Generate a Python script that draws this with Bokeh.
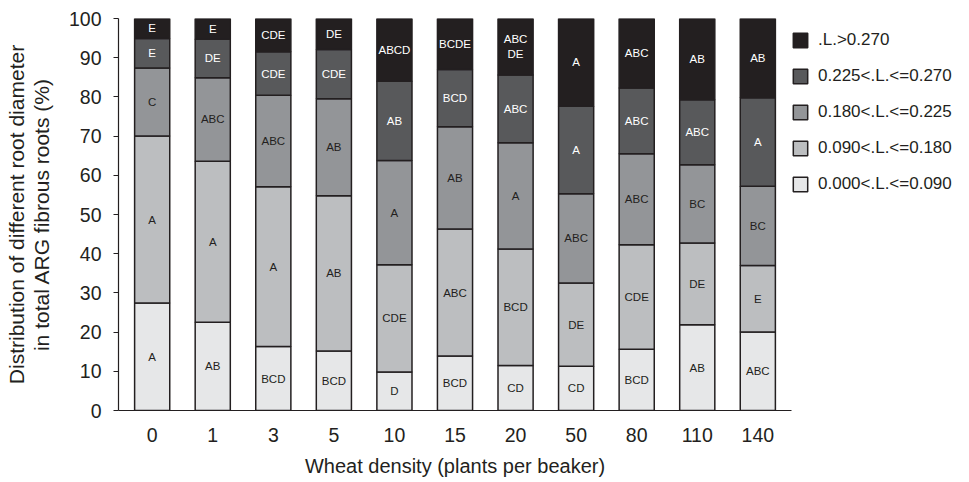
from bokeh.plotting import figure
from bokeh.models import ColumnDataSource, Range1d, FactorRange, Legend, LegendItem
from bokeh.core.properties import value
from bokeh.embed import file_html
from bokeh.resources import INLINE

densities = ["0", "1", "3", "5", "10", "15", "20", "50", "80", "110", "140"]
classes = ["0.000<.L.<=0.090", "0.090<.L.<=0.180", "0.180<.L.<=0.225",
           "0.225<.L.<=0.270", ".L.>0.270"]

# share (%) of each diameter class, bottom to top
c1 = [27.4, 22.5, 16.3, 15.2, 9.8, 13.9, 11.5, 11.3, 15.6, 21.9, 20.0]
c2 = [42.6, 41.1, 40.8, 39.6, 27.4, 32.4, 29.7, 21.2, 26.7, 20.8, 17.0]
c3 = [17.4, 21.3, 23.3, 24.7, 26.6, 26.1, 27.1, 22.8, 23.2, 20.0, 20.2]
c4 = [7.5, 9.8, 11.1, 12.6, 20.2, 14.6, 17.3, 22.3, 16.8, 16.6, 22.6]
c5 = [5.1, 5.3, 8.5, 7.9, 16.0, 13.0, 14.4, 22.4, 17.7, 20.7, 20.2]

# significance letters per class
L1 = ["A", "AB", "BCD", "BCD", "D", "BCD", "CD", "CD", "BCD", "AB", "ABC"]
L2 = ["A", "A", "A", "AB", "CDE", "ABC", "BCD", "DE", "CDE", "DE", "E"]
L3 = ["C", "ABC", "ABC", "AB", "A", "AB", "A", "ABC", "ABC", "BC", "BC"]
L4 = ["E", "DE", "CDE", "CDE", "AB", "BCD", "ABC", "A", "ABC", "ABC", "A"]
L5 = ["E", "E", "CDE", "DE", "ABCD", "BCDE", "ABC\nDE", "A", "ABC", "AB", "AB"]

y_ticks = [0, 10, 20, 30, 40, 50, 60, 70, 80, 90, 100]

colors = ["#e6e7e8", "#bcbec0", "#939598", "#58595b", "#231f20"]
text_colors = ["#231f20", "#231f20", "#231f20", "#ffffff", "#ffffff"]
FONT = "Liberation Sans"
INK = "#231f20"

series = [c1, c2, c3, c4, c5]
letters = [L1, L2, L3, L4, L5]

data = {"density": densities}
for name, s in zip(classes, series):
    data[name] = s
source = ColumnDataSource(data)

# label positions (segment midpoints)
tx, ty, tt, tc = [], [], [], []
for i, d in enumerate(densities):
    base = 0.0
    for k in range(5):
        v = series[k][i]
        tx.append(d)
        ty.append(base + v / 2.0)
        tt.append(letters[k][i])
        tc.append(text_colors[k])
        base += v
tsource = ColumnDataSource(dict(x=tx, y=ty, text=tt, color=tc))

p = figure(x_range=FactorRange(*densities, range_padding=0.0102),
           y_range=Range1d(0, 100),
           frame_width=673, frame_height=392,
           output_backend="svg", toolbar_location=None,
           min_border_left=118, min_border_right=0, min_border_top=18,
           min_border_bottom=0)
p.outline_line_color = None
p.xgrid.grid_line_color = None
p.ygrid.grid_line_color = None

rs = p.vbar_stack(classes, x="density", width=0.58, color=colors,
                  line_color=INK, line_width=1.5, source=source)

p.text(x="x", y="y", text="text", text_color="color", source=tsource,
       text_align="center", text_baseline="middle", text_font=value(FONT),
       text_font_size="11.5px", text_line_height=1.25)

legend = Legend(items=[LegendItem(label=classes[k], renderers=[rs[k]]) for k in range(4, -1, -1)],
                location=(0, 216), glyph_width=18, glyph_height=18,
                label_height=20, spacing=16, padding=6, margin=0,
                label_standoff=9, border_line_color=None,
                background_fill_alpha=0,
                label_text_font=FONT, label_text_font_size="17px",
                label_text_color=INK)
p.add_layout(legend, "right")

for ax in (p.xaxis[0], p.yaxis[0]):
    ax.axis_line_color = INK
    ax.axis_line_width = 1.2
    ax.major_tick_line_color = INK
    ax.minor_tick_line_color = None
    ax.major_label_text_font = FONT
    ax.major_label_text_font_size = "19.5px"
    ax.major_label_text_color = INK
    ax.axis_label_text_font = FONT
    ax.axis_label_text_font_size = "20px"
    ax.axis_label_text_font_style = "normal"
    ax.axis_label_text_color = INK

p.xaxis.major_tick_line_color = None
p.xaxis.major_tick_out = 0
p.xaxis.major_tick_in = 0
p.xaxis.major_label_standoff = 17
p.xaxis.axis_label = "Wheat density (plants per beaker)"
p.xaxis.axis_label_standoff = 10

p.yaxis.ticker = y_ticks
p.yaxis.major_tick_out = 5
p.yaxis.major_tick_in = 0
p.yaxis.major_label_standoff = 12
p.yaxis.axis_label = "Distribution of different root diameter\nin total ARG fibrous roots (%)"
p.yaxis.axis_label_text_font_size = "21px"
p.yaxis.axis_label_text_line_height = 1.1
p.yaxis.axis_label_standoff = 13

open("out.html", "w").write(file_html(p, INLINE))
